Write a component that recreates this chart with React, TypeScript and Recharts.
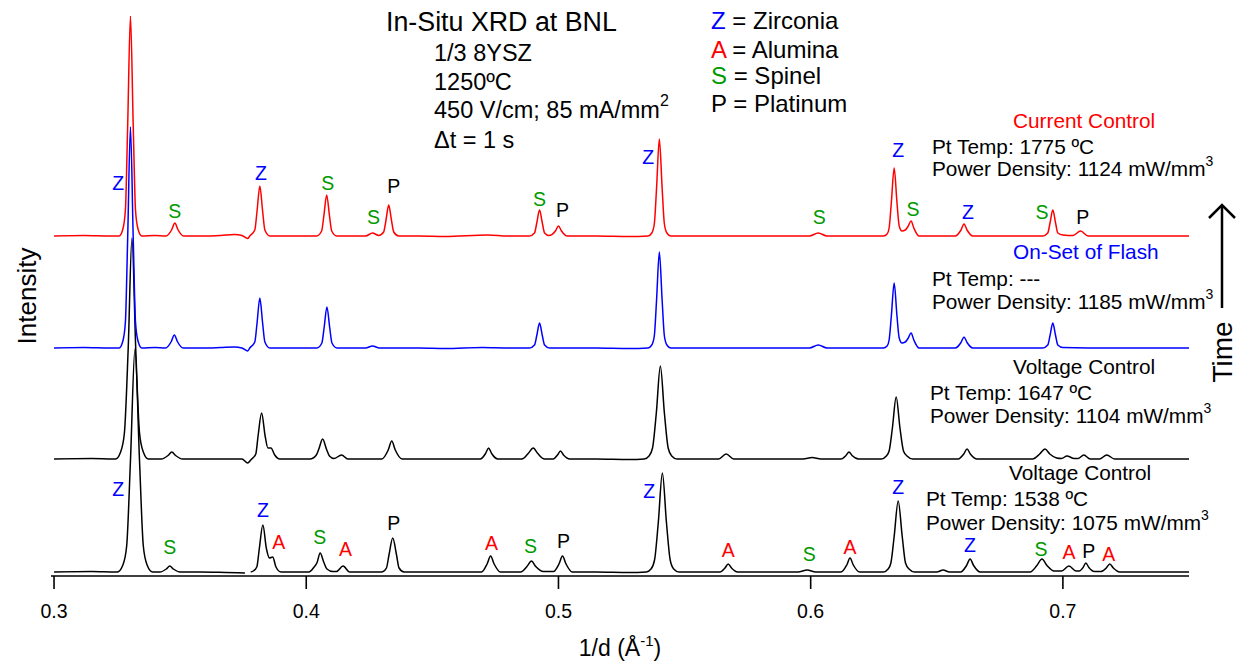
import React from "react";
import { LineChart, Line, XAxis, YAxis, ReferenceDot } from "recharts";

const FONT = "'Liberation Sans', Arial, Helvetica, sans-serif";

// 1/d values of the axis ticks
const X_TICKS = [0.3, 0.4, 0.5, 0.6, 0.7];

// each scan is [1/d, counts above its own baseline]
const CURRENT_CONTROL: [number, number][] = [
  [0.3, 0], [0.312, 0.5], [0.322, 0],
  [0.3258, 0], [0.3273, 7], [0.3283, 26], [0.3292, 110], [0.3303, 220], [0.3314, 110], [0.3323, 26], [0.3333, 7], [0.3348, 0],
  [0.34, 0.5],
  [0.3444, 0], [0.3467, 6.5], [0.3479, 13], [0.3491, 6.5], [0.3514, 0],
  [0.358, 0], [0.366, 0.5], [0.3715, 1.5], [0.3745, 0.5], [0.3768, -2.5], [0.3776, 0],
  [0.3796, 6], [0.3805, 25], [0.3816, 50], [0.3827, 25], [0.3836, 6], [0.3856, 0],
  [0.395, 0],
  [0.4041, 0], [0.4061, 5], [0.407, 20.5], [0.4081, 41], [0.4092, 20.5], [0.4101, 5], [0.4121, 0],
  [0.418, 0],
  [0.4235, 0], [0.4263, 3], [0.4287, 0.5],
  [0.4307, 4], [0.4316, 15.5], [0.4327, 31], [0.4338, 15.5], [0.4347, 4], [0.4367, 0],
  [0.445, 0], [0.455, -0.5], [0.4719, 1], [0.48, 0],
  [0.4885, 0], [0.4905, 3], [0.4914, 13], [0.4925, 26], [0.4936, 13], [0.4945, 3], [0.4962, 0.5],
  [0.4988, 5], [0.5, 10], [0.5012, 5], [0.5035, 0],
  [0.515, 0], [0.528, -0.5],
  [0.5355, 0], [0.537, 3], [0.538, 12], [0.5389, 48], [0.54, 97], [0.5411, 48], [0.542, 12], [0.543, 3], [0.5445, 0],
  [0.555, 0], [0.575, 0], [0.59, 0],
  [0.5995, 0], [0.603, 3], [0.6065, 0],
  [0.618, 0],
  [0.6288, 0], [0.6303, 2], [0.6311, 8], [0.632, 34], [0.6331, 68], [0.6342, 34], [0.6351, 10], [0.6362, 5],
  [0.6375, 6], [0.6387, 10], [0.6398, 15], [0.6409, 8], [0.643, 0],
  [0.65, 0],
  [0.6573, 0], [0.6596, 6], [0.6608, 12], [0.662, 6], [0.6643, 0],
  [0.68, 0],
  [0.692, 0], [0.694, 3], [0.6949, 13], [0.696, 26], [0.6971, 13], [0.698, 3], [0.7, 1],
  [0.704, 0.5], [0.707, 5], [0.71, 0],
  [0.72, 0], [0.735, 0], [0.75, 0],
];

const FLASH_ONSET: [number, number][] = [
  [0.3, 0], [0.312, 0.5], [0.322, 0],
  [0.3258, 0], [0.3273, 7], [0.3283, 26], [0.3292, 110], [0.3303, 221], [0.3314, 110], [0.3323, 26], [0.3333, 7], [0.3348, 0],
  [0.34, 0.5],
  [0.3442, 0], [0.3465, 6.5], [0.3477, 13], [0.3489, 6.5], [0.3512, 0],
  [0.358, 0], [0.366, 0.5], [0.3715, 1], [0.3745, 0], [0.3768, -3], [0.3776, 0],
  [0.3796, 6], [0.3805, 25], [0.3816, 50], [0.3827, 25], [0.3836, 6], [0.3856, 0],
  [0.395, 0],
  [0.4042, 0], [0.4062, 5], [0.4071, 20.5], [0.4082, 41], [0.4093, 20.5], [0.4102, 5], [0.4122, 0],
  [0.418, 0],
  [0.4235, 0], [0.4263, 2], [0.429, 0],
  [0.445, 0], [0.455, -0.5], [0.47, 0.5], [0.48, 0],
  [0.4885, 0], [0.4905, 3], [0.4914, 12.5], [0.4925, 25], [0.4936, 12.5], [0.4945, 3], [0.4965, 0],
  [0.515, 0], [0.528, -0.5],
  [0.5355, 0], [0.537, 3], [0.538, 12], [0.5389, 48], [0.54, 96], [0.5411, 48], [0.542, 12], [0.543, 3], [0.5445, 0],
  [0.555, 0], [0.575, 0], [0.59, 0],
  [0.5995, 0], [0.603, 3], [0.6065, 0],
  [0.618, 0],
  [0.6288, 0], [0.6303, 2], [0.6311, 8], [0.632, 32.5], [0.6331, 65], [0.6342, 32.5], [0.6351, 10], [0.6362, 5],
  [0.6375, 6], [0.6387, 10], [0.6398, 15], [0.6409, 8], [0.643, 0],
  [0.65, 0],
  [0.6573, 0], [0.6596, 5.5], [0.6608, 11], [0.662, 5.5], [0.6643, 0],
  [0.68, 0],
  [0.692, 0], [0.694, 3], [0.6949, 12.5], [0.696, 25], [0.6971, 12.5], [0.698, 3], [0.7, 0.5],
  [0.72, 0], [0.735, 0], [0.75, 0],
];

const VOLTAGE_LATE: [number, number][] = [
  [0.3, 0], [0.315, 0.5], [0.3235, 0],
  [0.3244, 0], [0.3264, 7], [0.3279, 26], [0.3294, 110], [0.3309, 221], [0.3324, 110], [0.3339, 26], [0.3354, 7], [0.3374, 0],
  [0.3425, 0], [0.3452, 3.5], [0.3467, 7], [0.3482, 3.5], [0.351, 0],
  [0.358, 0], [0.368, 0], [0.3745, 0], [0.3768, -4], [0.378, -1],
  [0.3788, 1], [0.38, 5], [0.3809, 23], [0.3823, 46], [0.3837, 23], [0.3848, 11], [0.386, 11], [0.3875, 4], [0.3895, 0],
  [0.398, 0],
  [0.4015, 0], [0.404, 4], [0.405, 10], [0.4065, 20], [0.408, 10], [0.4092, 3], [0.411, 0.5],
  [0.414, 4], [0.4165, 0],
  [0.422, 0],
  [0.43, 0], [0.4325, 9], [0.4339, 18], [0.4353, 9], [0.438, 0],
  [0.45, 0], [0.462, 0],
  [0.469, 0], [0.4711, 5.5], [0.4723, 11], [0.4735, 5.5], [0.476, 0],
  [0.482, 0],
  [0.4855, 0], [0.488, 5.5], [0.49, 11], [0.4918, 5.5], [0.4945, 0],
  [0.498, 0], [0.4996, 4], [0.5008, 8], [0.502, 4], [0.5045, 0],
  [0.515, 0], [0.528, -0.5],
  [0.534, 0], [0.5359, 3], [0.5373, 11], [0.5388, 46], [0.5404, 93], [0.542, 46], [0.5435, 11], [0.5449, 3], [0.547, 0],
  [0.555, 0],
  [0.5635, 0], [0.5665, 5], [0.5695, 0],
  [0.585, 0],
  [0.597, 0], [0.6006, 1.5], [0.604, 0],
  [0.61, 0],
  [0.612, 0], [0.614, 3.5], [0.6152, 7], [0.6164, 3.5], [0.619, 0],
  [0.628, 0], [0.63, 3], [0.6311, 8], [0.6324, 31], [0.6339, 62], [0.6354, 31], [0.6368, 8], [0.6382, 3], [0.6405, 0],
  [0.65, 0],
  [0.6585, 0], [0.6607, 5], [0.662, 10], [0.6633, 5], [0.666, 0],
  [0.68, 0],
  [0.688, 0], [0.6908, 5], [0.6929, 10], [0.6948, 5], [0.6975, 1],
  [0.6995, 0.5], [0.7016, 3], [0.7045, 0.5],
  [0.706, 0.5], [0.7083, 4], [0.7108, 0],
  [0.7145, 0], [0.7174, 4], [0.7205, 0],
  [0.73, 0], [0.75, 0],
];

const VOLTAGE_EARLY: [number, number | null][] = [
  [0.3, 0], [0.315, 0.5], [0.3245, 0],
  [0.3251, 0], [0.3273, 7], [0.3288, 26], [0.3303, 111], [0.3321, 223], [0.3339, 111], [0.3354, 26], [0.3369, 7], [0.3391, 0],
  [0.342, 0], [0.3445, 3], [0.3459, 6], [0.3473, 3], [0.35, 0],
  [0.358, 0], [0.368, -0.5], [0.3757, -1], [0.3768, null], [0.378, 0],
  [0.379, 1], [0.3804, 5], [0.3814, 23.5], [0.3828, 47], [0.3842, 23.5], [0.3854, 14], [0.3867, 15], [0.388, 5], [0.39, 0],
  [0.397, 0],
  [0.401, 0], [0.4031, 5], [0.4043, 9.5], [0.4055, 19], [0.407, 9.5], [0.4082, 3], [0.4105, 0.5],
  [0.412, 0.5], [0.4146, 6], [0.4172, 0],
  [0.423, 0],
  [0.43, 0], [0.4318, 4], [0.4328, 17], [0.4343, 34], [0.4358, 17], [0.4368, 4], [0.4388, 0],
  [0.45, 0], [0.462, 0],
  [0.4695, 0], [0.4717, 8], [0.4731, 16], [0.4745, 8], [0.477, 0],
  [0.482, 0],
  [0.485, 0], [0.4875, 5.5], [0.4893, 11], [0.491, 5.5], [0.494, 0.5],
  [0.498, 0.5], [0.5002, 8], [0.5016, 16], [0.503, 8], [0.5055, 0],
  [0.515, 0], [0.528, -0.5],
  [0.5348, 0], [0.5367, 3], [0.5381, 12], [0.5396, 50], [0.5412, 99], [0.5428, 50], [0.5443, 12], [0.5457, 3], [0.5478, 0],
  [0.555, 0],
  [0.564, 0], [0.566, 4], [0.5673, 8], [0.5686, 4], [0.571, 0],
  [0.585, 0],
  [0.595, 0], [0.5986, 2], [0.602, 0],
  [0.608, 0],
  [0.612, 0], [0.6143, 7], [0.6156, 14], [0.6169, 7], [0.6195, 0],
  [0.6288, 0], [0.6307, 3], [0.6318, 9], [0.6331, 35.5], [0.6347, 71], [0.6363, 35.5], [0.6376, 9], [0.639, 3], [0.6412, 0],
  [0.648, 0],
  [0.65, 0], [0.6525, 2], [0.655, 0],
  [0.6595, 0], [0.6618, 6.5], [0.6632, 13], [0.6646, 6.5], [0.6672, 0],
  [0.68, 0],
  [0.687, 0], [0.6897, 6.5], [0.6917, 13], [0.6937, 6.5], [0.6965, 1],
  [0.6995, 1], [0.7024, 6], [0.7052, 1],
  [0.7065, 1], [0.708, 4.5], [0.7091, 9], [0.7103, 4.5], [0.7125, 0.5],
  [0.715, 0.5], [0.7172, 4], [0.7186, 8], [0.72, 4], [0.7225, 0],
  [0.735, 0], [0.75, 0],
];

// phase markers: [letter, 1/d, height on the stacked scale]
const PEAK_TAGS: [string, number, number][] = [
  ["Z", 0.3254, 389], ["S", 0.3479, 361], ["Z", 0.382, 399], ["S", 0.4085, 389],
  ["S", 0.4267, 355], ["P", 0.4347, 386], ["S", 0.4925, 373], ["P", 0.5016, 362],
  ["Z", 0.5356, 415], ["S", 0.6034, 355], ["Z", 0.6347, 422], ["S", 0.6406, 363],
  ["Z", 0.6624, 360], ["S", 0.6917, 360], ["P", 0.7079, 355],
  ["Z", 0.3254, 83], ["S", 0.3459, 25], ["Z", 0.3828, 62], ["A", 0.3891, 30],
  ["S", 0.4054, 35], ["A", 0.4156, 23], ["P", 0.4347, 49], ["A", 0.4735, 29],
  ["S", 0.4889, 26], ["P", 0.502, 31], ["Z", 0.536, 81], ["A", 0.5673, 22],
  ["S", 0.5994, 18], ["A", 0.6156, 25], ["Z", 0.6347, 85], ["Z", 0.6632, 27],
  ["S", 0.6913, 23], ["A", 0.7024, 20], ["P", 0.7103, 21], ["A", 0.7182, 18],
];

const TAG_COLOR: Record<string, string> = { Z: "#0000ff", A: "#ff0000", S: "#009a00", P: "#000000" };

// vertical stacking of the four scans
const STACK = { current: 336, flash: 224, late: 113, early: 0 };

const toRows = (scan: [number, number | null][], offset: number) =>
  scan.map(([x, y]) => ({ x, y: y === null ? null : y + offset }));

function Sup({ children }: { children: React.ReactNode }) {
  return (
    <tspan dy={-10} fontSize={14}>
      {children}
    </tspan>
  );
}

function Notes() {
  const info = { fontSize: 23.5, fill: "#000" };
  const legend = { fontSize: 24, fill: "#000" };
  const note = { fontSize: 20.8, fill: "#000" };
  return (
    <svg
      width={1243}
      height={663}
      style={{ position: "absolute", left: 0, top: 0, pointerEvents: "none", fontFamily: FONT }}
    >
      <text x={386} y={31} fontSize={26.8}>In-Situ XRD at BNL</text>
      <text x={434} y={61} {...info}>1/3 8YSZ</text>
      <text x={434} y={90} {...info}>1250ºC</text>
      <text x={434} y={118} {...info}>
        450 V/cm; 85 mA/mm<tspan dy={-12} fontSize={16}>2</tspan>
      </text>
      <text x={434} y={148} {...info}>Δt = 1 s</text>

      <text x={711} y={29} {...legend}><tspan fill={TAG_COLOR.Z}>Z</tspan> = Zirconia</text>
      <text x={711} y={58} {...legend}><tspan fill={TAG_COLOR.A}>A</tspan> = Alumina</text>
      <text x={711} y={84} {...legend}><tspan fill={TAG_COLOR.S}>S</tspan> = Spinel</text>
      <text x={711} y={112} {...legend}><tspan fill={TAG_COLOR.P}>P</tspan> = Platinum</text>

      <text x={1013} y={128} {...note} fill="#ff0000">Current Control</text>
      <text x={932} y={154} {...note}>Pt Temp: 1775 ºC</text>
      <text x={932} y={176} {...note}>Power Density: 1124 mW/mm<Sup>3</Sup></text>

      <text x={1013} y={259} {...note} fill="#0000ff">On-Set of Flash</text>
      <text x={932} y={286} {...note}>Pt Temp: ---</text>
      <text x={932} y={309} {...note}>Power Density: 1185 mW/mm<Sup>3</Sup></text>

      <text x={1013} y={374} {...note}>Voltage Control</text>
      <text x={930} y={400} {...note}>Pt Temp: 1647 ºC</text>
      <text x={930} y={423} {...note}>Power Density: 1104 mW/mm<Sup>3</Sup></text>

      <text x={1009} y={480} {...note}>Voltage Control</text>
      <text x={926} y={506} {...note}>Pt Temp: 1538 ºC</text>
      <text x={926} y={530} {...note}>Power Density: 1075 mW/mm<Sup>3</Sup></text>

      <text transform="translate(36 296) rotate(-90)" textAnchor="middle" fontSize={26}>Intensity</text>
      <text transform="translate(1232 352) rotate(-90)" textAnchor="middle" fontSize={28}>Time</text>
      <line x1={1222} y1={308} x2={1222} y2={206} stroke="#000" strokeWidth={2.5} />
      <polyline points="1209,218 1222,205 1235,218" fill="none" stroke="#000" strokeWidth={2.5} />

      <text x={620} y={656} textAnchor="middle" fontSize={23}>
        1/d (Å<tspan dy={-10} fontSize={15}>-1</tspan><tspan dy={10}>)</tspan>
      </text>
    </svg>
  );
}

export default function App() {
  const scans = [
    { key: "early", rows: toRows(VOLTAGE_EARLY, STACK.early), color: "#000000" },
    { key: "late", rows: toRows(VOLTAGE_LATE, STACK.late), color: "#000000" },
    { key: "flash", rows: toRows(FLASH_ONSET, STACK.flash), color: "#0000ff" },
    { key: "current", rows: toRows(CURRENT_CONTROL, STACK.current), color: "#ff0000" },
  ];

  return (
    <div style={{ position: "absolute", left: 0, top: 0, width: 1243, height: 663, background: "#fff", fontFamily: FONT }}>
      <LineChart width={1243} height={663} margin={{ top: 16, right: 54, left: 51, bottom: 27 }}>
        <XAxis
          type="number"
          dataKey="x"
          domain={[0.2988, 0.75]}
          allowDataOverflow
          ticks={X_TICKS}
          tickFormatter={(v: number) => v.toFixed(1)}
          axisLine={{ stroke: "#000", strokeWidth: 1.6 }}
          tickLine={{ stroke: "#000", strokeWidth: 1.6 }}
          tickSize={13}
          tickMargin={15}
          tick={{ fill: "#000", fontSize: 19.5, fontFamily: FONT }}
          height={60}
        />
        <YAxis
          type="number"
          domain={[-4, 556]}
          allowDataOverflow
          tick={false}
          tickLine={false}
          axisLine={{ stroke: "#000", strokeWidth: 1.6 }}
          width={0}
        />
        {scans.map((s) => (
          <Line
            key={s.key}
            data={s.rows}
            dataKey="y"
            type="monotone"
            stroke={s.color}
            strokeWidth={1.5}
            dot={false}
            activeDot={false}
            isAnimationActive={false}
          />
        ))}
        {PEAK_TAGS.map(([tag, x, y], i) => (
          <ReferenceDot
            key={i}
            x={x}
            y={y}
            r={0}
            shape={(p: any) => (
              <text
                x={p.cx}
                y={p.cy}
                dy={7}
                textAnchor="middle"
                fill={TAG_COLOR[tag]}
                fontSize={19.5}
                fontFamily={FONT}
              >
                {tag}
              </text>
            )}
          />
        ))}
      </LineChart>
      <Notes />
    </div>
  );
}
